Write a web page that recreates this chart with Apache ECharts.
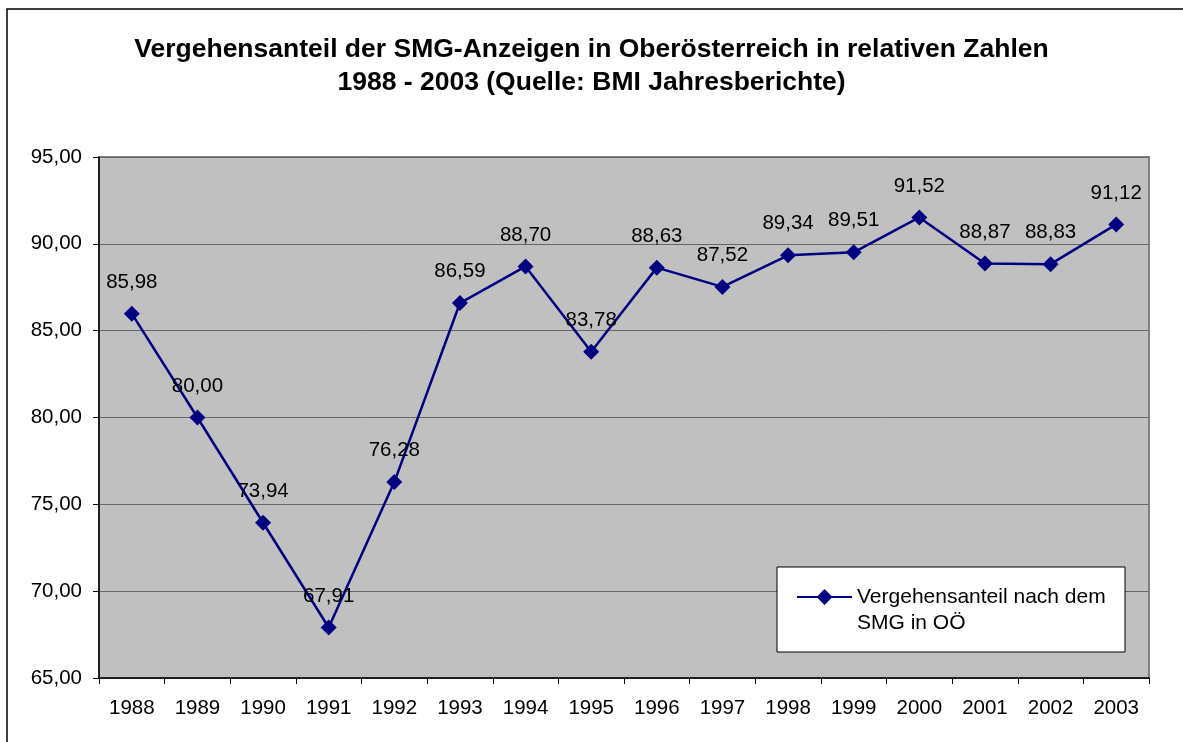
<!DOCTYPE html>
<html>
<head>
<meta charset="utf-8">
<script src="https://cdn.jsdelivr.net/npm/echarts@6/dist/echarts.min.js"></script>
<style>
  html, body { margin: 0; padding: 0; background: #fff; }
  #chart { width: 1183px; height: 742px; }
</style>
</head>
<body>
<div id="chart"></div>
<script>
// Jahre und Vergehensanteil (Prozent)
const years = ['1988', '1989', '1990', '1991', '1992', '1993', '1994', '1995',
  '1996', '1997', '1998', '1999', '2000', '2001', '2002', '2003']
const anteil = [85.98, 80.00, 73.94, 67.91, 76.28, 86.59, 88.70, 83.78,
  88.63, 87.52, 89.34, 89.51, 91.52, 88.87, 88.83, 91.12]
const yTicks = [65, 70, 75, 80, 85, 90, 95]

const fmt = v => v.toFixed(2).replace('.', ',')
const font = 'Liberation Sans, Arial, sans-serif'

const chart = echarts.init(document.getElementById('chart'))
chart.setOption({
  animation: false,
  textStyle: { fontFamily: font },
  title: {
    text: 'Vergehensanteil der SMG-Anzeigen in Oberösterreich in relativen Zahlen\n1988 - 2003 (Quelle: BMI Jahresberichte)',
    left: 'center',
    top: 28,
    textStyle: {
      fontFamily: font,
      fontSize: 26.5,
      fontWeight: 'bold',
      lineHeight: 33,
      color: '#000',
      align: 'center'
    }
  },
  graphic: [
    {
      type: 'rect',
      z: -1,
      shape: { x: 7, y: 9, width: 1200, height: 800 },
      style: { fill: 'none', stroke: '#000', lineWidth: 1.5 }
    },
    {
      type: 'rect',
      z: 3,
      shape: { x: 777, y: 567, width: 348, height: 85 },
      style: { fill: '#fff', stroke: '#000', lineWidth: 1 }
    }
  ],
  legend: {
    left: 796,
    top: 558,
    padding: 0,
    z: 4,
    itemWidth: 55,
    itemHeight: 20,
    itemGap: 4,
    // leere erste Zeile, damit das Symbol auf Höhe der ersten Textzeile sitzt
    formatter: () => ' \nVergehensanteil nach dem\nSMG in OÖ',
    textStyle: {
      fontFamily: font,
      fontSize: 21,
      lineHeight: 26,
      color: '#000'
    }
  },
  grid: {
    left: 99,
    right: 34,
    top: 157,
    bottom: 64,
    show: true,
    backgroundColor: '#C0C0C0',
    borderColor: '#808080',
    borderWidth: 2
  },
  xAxis: {
    type: 'category',
    data: years,
    boundaryGap: true,
    axisLine: { lineStyle: { color: '#000', width: 1.5 } },
    axisTick: { show: true, length: 6, lineStyle: { color: '#000' } },
    axisLabel: { color: '#000', fontSize: 20.5, margin: 20, fontFamily: font, interval: 0 }
  },
  yAxis: {
    type: 'value',
    min: yTicks[0],
    max: yTicks[yTicks.length - 1],
    interval: 5,
    axisLine: { show: true, lineStyle: { color: '#000', width: 1.5 } },
    axisTick: { show: true, length: 6, lineStyle: { color: '#000' } },
    axisLabel: { color: '#000', fontSize: 20.5, margin: 17, fontFamily: font, formatter: fmt },
    splitLine: { lineStyle: { color: '#666', width: 1 } }
  },
  series: [
    {
      name: 'Vergehensanteil nach dem SMG in OÖ',
      type: 'line',
      data: anteil,
      symbol: 'diamond',
      symbolSize: 16,
      color: '#000080',
      lineStyle: { color: '#000080', width: 2.5 },
      itemStyle: { color: '#000080' },
      label: {
        show: true,
        position: 'top',
        distance: 13,
        fontSize: 20.5,
        fontFamily: font,
        color: '#000',
        formatter: p => fmt(p.value)
      }
    }
  ]
})
</script>
</body>
</html>
